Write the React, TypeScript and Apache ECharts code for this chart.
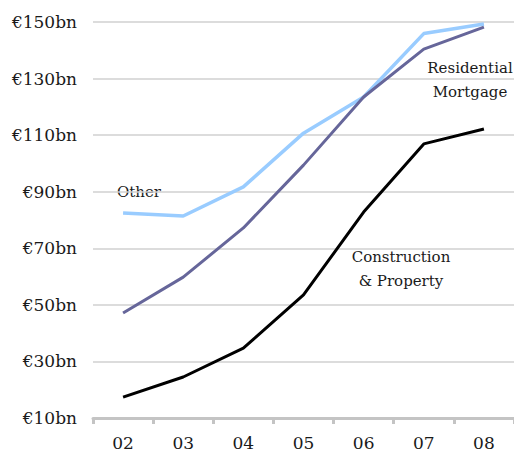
import React, { useEffect, useRef } from "react";
import * as echarts from "echarts";

const categories = ["02", "03", "04", "05", "06", "07", "08"];
const otherValues = [82.5, 81.4, 91.7, 110.7, 123.5, 145.9, 149.3];
const residentialValues = [47.1, 59.8, 77.2, 99.4, 123.5, 140.4, 148.2];
const constructionValues = [17.4, 24.5, 34.7, 53.5, 82.8, 106.9, 112.2];
const yMin = 10;
const yMax = 150;
const yStep = 20;

export default function App() {
  const ref = useRef<HTMLDivElement>(null);
  useEffect(() => {
    document.body.style.margin = "0";
    const chart = echarts.init(ref.current!, null, { renderer: "svg" });
    const font = "DejaVu Serif";
    chart.setOption({
      animation: false,
      backgroundColor: "#ffffff",
      grid: { left: 93, right: 0, top: 22, bottom: 38, containLabel: false },
      xAxis: {
        type: "category",
        data: categories,
        boundaryGap: true,
        axisLine: { show: true, lineStyle: { color: "#c4c4c4", width: 3 } },
        axisTick: { show: true, length: 6, lineStyle: { color: "#c4c4c4", width: 3 } },
        axisLabel: { fontFamily: font, fontSize: 17, color: "#1a1a1a", margin: 16 },
        splitLine: { show: false },
      },
      yAxis: [
        {
          type: "value",
          min: yMin,
          max: yMax,
          axisLabel: { show: false },
          axisLine: { show: false },
          axisTick: { show: false },
          splitLine: { show: false },
        },
        {
          type: "value",
          position: "left",
          min: 0,
          max: yMax - yMin,
          interval: yStep,
          axisLine: { show: false },
          axisTick: { show: false },
          axisLabel: {
            fontFamily: font,
            fontSize: 17,
            color: "#1a1a1a",
            margin: 16,
            formatter: (v: number) => `€${v + yMin}bn`,
          },
          splitLine: { show: true, lineStyle: { color: "#d0d0d0", width: 1.5 } },
        },
      ],
      series: [
        {
          name: "Other",
          type: "line",
          yAxisIndex: 0,
          data: otherValues,
          showSymbol: false,
          lineStyle: { color: "#99ccff", width: 3.5 },
          z: 3,
        },
        {
          name: "Residential Mortgage",
          type: "line",
          yAxisIndex: 0,
          data: residentialValues,
          showSymbol: false,
          lineStyle: { color: "#66669a", width: 3 },
          z: 4,
        },
        {
          name: "Construction & Property",
          type: "line",
          yAxisIndex: 0,
          data: constructionValues,
          showSymbol: false,
          lineStyle: { color: "#000000", width: 3 },
          z: 5,
        },
      ],
      graphic: [
        {
          type: "text",
          left: 117,
          top: 184,
          style: { text: "Other", fontFamily: font, fontSize: 15, fill: "#1a1a1a" },
        },
        {
          type: "text",
          x: 470,
          y: 68,
          style: {
            text: "Residential",
            fontFamily: font,
            fontSize: 15,
            fill: "#1a1a1a",
            textAlign: "center",
            textVerticalAlign: "middle",
          },
        },
        {
          type: "text",
          x: 470,
          y: 92,
          style: {
            text: "Mortgage",
            fontFamily: font,
            fontSize: 15,
            fill: "#1a1a1a",
            textAlign: "center",
            textVerticalAlign: "middle",
          },
        },
        {
          type: "text",
          x: 401,
          y: 257,
          style: {
            text: "Construction",
            fontFamily: font,
            fontSize: 15,
            fill: "#1a1a1a",
            textAlign: "center",
            textVerticalAlign: "middle",
          },
        },
        {
          type: "text",
          x: 401,
          y: 281,
          style: {
            text: "& Property",
            fontFamily: font,
            fontSize: 15,
            fill: "#1a1a1a",
            textAlign: "center",
            textVerticalAlign: "middle",
          },
        },
      ],
    });
    return () => chart.dispose();
  }, []);
  return <div ref={ref} style={{ width: 514, height: 456 }} />;
}
